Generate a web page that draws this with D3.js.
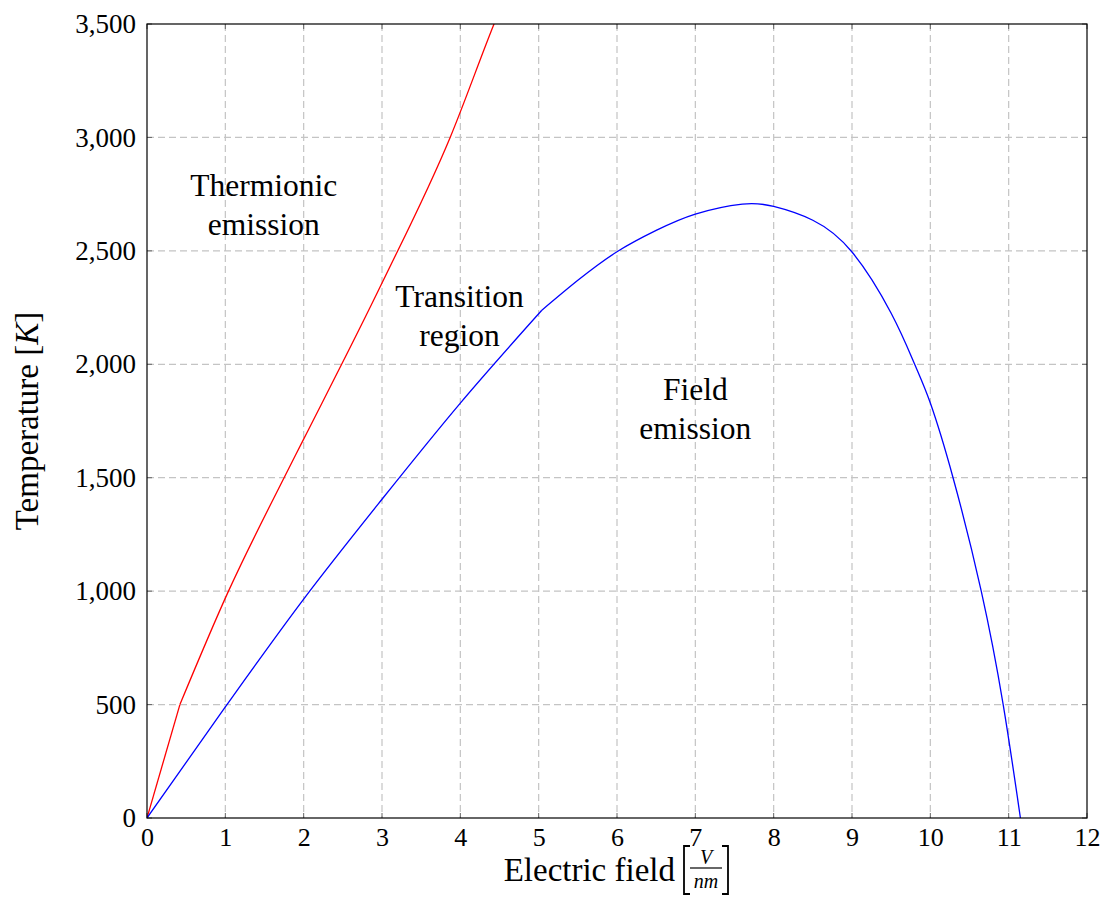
<!DOCTYPE html>
<html><head><meta charset="utf-8">
<script src="https://cdn.jsdelivr.net/npm/d3@7"></script>
<style>
body{margin:0;background:#fff;}
svg text{font-family:"Liberation Serif","Times New Roman",serif;fill:#000;}
</style></head>
<body><svg id="c" width="1106" height="922"></svg>
<script>
const xTicks = [0,1,2,3,4,5,6,7,8,9,10,11,12];
const yTicks = [0,500,1000,1500,2000,2500,3000,3500];
// red: thermionic boundary (kink at 0.42)
const redStartX = [0,0.42];
const redStartY = [0,500];
const redX = [0.42,1.04,1.75,2,3,3.87,4.43,4.5];
const redY = [500,1000,1500,1670,2358,3000,3500,3560];
// blue: field-emission boundary (kink at 5.04)
const blueRiseX = [0,1,2,3,4,5.04];
const blueRiseY = [0,490,965,1405,1829,2238];
const blueFallX = [5.04,5.5,6,6.5,7,7.6,8,8.5,9,9.5,9.8,10,10.29,10.65,10.93,11.15];
const blueFallY = [2238,2370,2496,2590,2662,2706,2696,2635,2495,2225,2000,1829,1500,1000,500,0];
const annotations = [
  {lines:["Thermionic","emission"], x:1.49, y:2742},
  {lines:["Transition","region"], x:3.99, y:2252},
  {lines:["Field","emission"], x:7.0, y:1842}
];

const svg = d3.select("#c");
const L=147,R=1087,T=24,B=818;
const x = d3.scaleLinear([0,12],[L,R]);
const y = d3.scaleLinear([0,3500],[B,T]);
const FS = 26, AFS = 31.5, LFS = 33;

// grid
const g = svg.append("g");
g.selectAll(".gx").data(xTicks.slice(1,-1)).join("line")
  .attr("x1",d=>x(d)).attr("x2",d=>x(d)).attr("y1",T).attr("y2",B)
  .attr("stroke","#c4c4c4").attr("stroke-width",1.2).attr("stroke-dasharray","7,4");
g.selectAll(".gy").data(yTicks.slice(1,-1)).join("line")
  .attr("y1",d=>y(d)).attr("y2",d=>y(d)).attr("x1",L).attr("x2",R)
  .attr("stroke","#c4c4c4").attr("stroke-width",1.2).attr("stroke-dasharray","7,4");

// ticks inside on all sides
const tl=5;
xTicks.forEach(v=>{
  g.append("line").attr("x1",x(v)).attr("x2",x(v)).attr("y1",B).attr("y2",B-tl).attr("stroke","#666");
  g.append("line").attr("x1",x(v)).attr("x2",x(v)).attr("y1",T).attr("y2",T+tl).attr("stroke","#666");
});
yTicks.forEach(v=>{
  g.append("line").attr("y1",y(v)).attr("y2",y(v)).attr("x1",L).attr("x2",L+tl).attr("stroke","#666");
  g.append("line").attr("y1",y(v)).attr("y2",y(v)).attr("x1",R).attr("x2",R-tl).attr("stroke","#666");
});

// axis tick labels via d3 axes
const ax = svg.append("g").attr("transform",`translate(0,${B})`)
  .call(d3.axisBottom(x).tickValues(xTicks).tickSize(0).tickPadding(10).tickFormat(d3.format("d")));
ax.select(".domain").remove();
ax.selectAll("text").style("font-size",FS+"px").style("font-family","Liberation Serif");
const fmt = d3.format(",");
const ay = svg.append("g").attr("transform",`translate(${L},0)`)
  .call(d3.axisLeft(y).tickValues(yTicks).tickSize(0).tickPadding(11).tickFormat(fmt));
ay.select(".domain").remove();
ay.selectAll("text").style("font-size",(FS+1)+"px").style("font-family","Liberation Serif");

// curves
svg.append("clipPath").attr("id","pa").append("rect").attr("x",L).attr("y",T).attr("width",R-L).attr("height",B-T);
const lin = d3.line().x(d=>x(d[0])).y(d=>y(d[1])).curve(d3.curveLinear);
const mono = d3.line().x(d=>x(d[0])).y(d=>y(d[1])).curve(d3.curveMonotoneX);
const nat = d3.line().x(d=>x(d[0])).y(d=>y(d[1])).curve(d3.curveNatural);
const zipP = (a,b)=>a.map((v,i)=>[v,b[i]]);
const rg = svg.append("g").attr("clip-path","url(#pa)").attr("fill","none").attr("stroke-width",1.3);
rg.append("path").attr("d",lin(zipP(redStartX,redStartY))).attr("stroke","#ff0000");
rg.append("path").attr("d",mono(zipP(redX,redY))).attr("stroke","#ff0000");
rg.append("path").attr("d",mono(zipP(blueRiseX,blueRiseY))).attr("stroke","#0000ff");
rg.append("path").attr("d",nat(zipP(blueFallX,blueFallY))).attr("stroke","#0000ff");

// frame
svg.append("rect").attr("x",L).attr("y",T).attr("width",R-L).attr("height",B-T)
  .attr("fill","none").attr("stroke","#000").attr("stroke-width",1.2);

// annotations
annotations.forEach(a=>{
  const t = svg.append("text").attr("text-anchor","middle").style("font-size",AFS+"px");
  a.lines.forEach((ln,i)=>{
    t.append("tspan").attr("x",x(a.x)).attr("y",y(a.y)+i*39).text(ln);
  });
});

// y label
svg.append("text").attr("transform","translate(38,421) rotate(-90)").attr("text-anchor","middle")
  .style("font-size",LFS+"px")
  .html('Temperature [<tspan font-style="italic">K</tspan>]');

// x label
svg.append("text").attr("x",675).attr("y",881).attr("text-anchor","end").style("font-size",LFS+"px").text("Electric field");
const br = svg.append("g").attr("stroke","#000").attr("fill","none").attr("stroke-width",1.8);
br.append("path").attr("d","M690,846 L684,846 L684,894 L690,894");
br.append("path").attr("d","M722,846 L728,846 L728,894 L722,894");
svg.append("line").attr("x1",690).attr("x2",722).attr("y1",868).attr("y2",868).attr("stroke","#000").attr("stroke-width",1.2);
svg.append("text").attr("x",706).attr("y",864).attr("text-anchor","middle").style("font-size","20px").style("font-style","italic").text("V");
svg.append("text").attr("x",706).attr("y",888).attr("text-anchor","middle").style("font-size","20px").style("font-style","italic").text("nm");
</script></body></html>
